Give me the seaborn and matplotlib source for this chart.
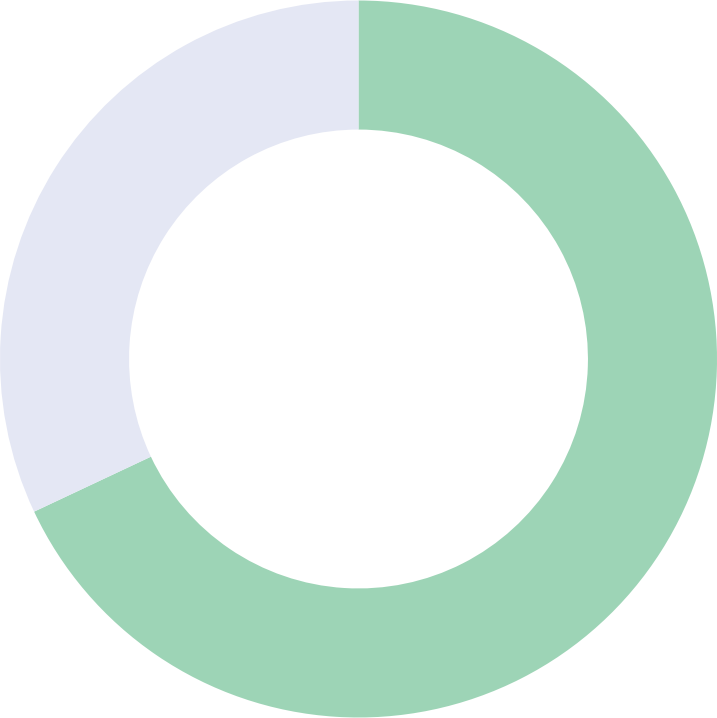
import seaborn as sns
import matplotlib.pyplot as plt

labels = ["A", "B"]
values = [68, 32]
colors = ["#9dd4b6", "#e4e7f4"]

sns.set_style("white")
fig = plt.figure(figsize=(7.17, 7.18), dpi=100)
ax = fig.add_axes([0, 0, 1, 1])
ax.pie(values, colors=colors, startangle=90, counterclock=False,
       radius=1.0, wedgeprops=dict(width=0.36, edgecolor="none"))
ax.set_xlim(-1.0, 1.0)
ax.set_ylim(-1.0, 1.0)
ax.set_aspect("equal")
ax.axis("off")
fig.savefig("out.png", dpi=100)
plt.close()
